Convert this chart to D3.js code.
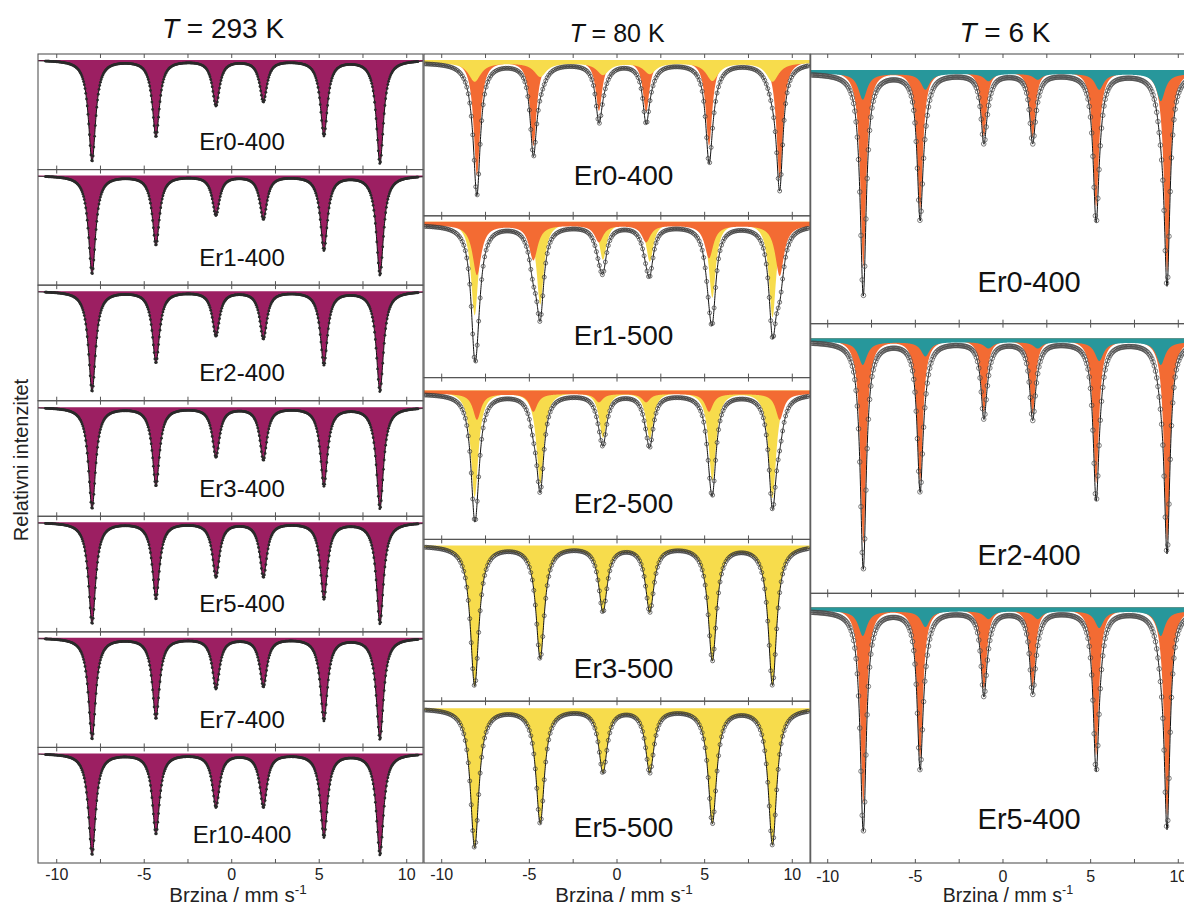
<!DOCTYPE html>
<html><head><meta charset="utf-8">
<script src="https://cdn.jsdelivr.net/npm/d3@7"></script>
<style>
body{margin:0;background:#fff}
svg{display:block;font-family:Arial,"Liberation Sans",sans-serif}
</style>
</head><body>
<svg id="c" width="1184" height="906"></svg>
<script>
// ================= DATA =================
const temperatures = ["293 K", "80 K", "6 K"];
const velocityTicks = [-10, -5, 0, 5, 10];
const minorTicks = [-10, -7.5, -5, -2.5, 0, 2.5, 5, 7.5, 10];
const axisTitle = "Brzina / mm s";
const yTitle = "Relativni intenzitet";

// sextet line positions (mm/s)
const linesHem293 = [-7.98, -4.33, -0.90, 1.81, 5.27, 8.47];
const linesOrange80 = [-7.99, -4.77, -1.03, 1.66, 5.25, 9.28];
const linesYellow80 = [-8.12, -4.38, -0.80, 1.87, 5.44, 8.87];
const linesOrange6 = [-7.97, -4.73, -1.09, 1.69, 5.31, 9.36];
const linesTeal6 = [-8.00, -4.43, -0.83, 1.98, 5.49, 9.00];

// T = 293 K : one sextet (absorption depth in %)
const samples293 = ["Er0-400", "Er1-400", "Er2-400", "Er3-400", "Er5-400", "Er7-400", "Er10-400"];
const depths293 = [
  [10.1, 7.6, 4.5, 4.1, 7.5, 10.3],
  [9.8, 6.9, 3.9, 4.3, 7.4, 9.9],
  [10.0, 7.1, 4.4, 4.7, 7.3, 10.0],
  [10.1, 7.8, 4.9, 5.2, 7.8, 10.1],
  [10.1, 7.6, 5.4, 5.4, 7.6, 10.1],
  [10.1, 8.0, 5.0, 4.8, 8.2, 10.1],
  [10.1, 8.0, 5.3, 5.3, 8.3, 10.1]
];
const width293 = [0.5, 0.5, 0.5, 0.5, 0.5, 0.5, 0.5];

// T = 80 K : orange + yellow sextets
const samples80 = ["Er0-400", "Er1-500", "Er2-500", "Er3-500", "Er5-500"];
const orangeDepths80 = [
  [11.5, 8.5, 5.0, 5.1, 8.5, 11.8],
  [5.0, 3.5, 1.7, 1.7, 3.3, 5.1],
  [2.6, 1.8, 0.85, 0.85, 1.8, 2.6],
  [0, 0, 0, 0, 0, 0],
  [0, 0, 0, 0, 0, 0]
];
const yellowDepths80 = [
  [1.9, 1.4, 1.2, 1.1, 1.8, 1.9],
  [9.3, 8.2, 3.7, 3.9, 7.5, 9.5],
  [10.6, 9.2, 4.6, 4.7, 8.9, 10.7],
  [14.0, 11.2, 6.5, 6.5, 11.4, 13.9],
  [13.9, 11.4, 6.3, 6.3, 11.4, 13.6]
];
const orangeWidth80 = [0.45, 0.6, 0.55, 0.5, 0.5];
const yellowWidth80 = [0.85, 0.5, 0.52, 0.58, 0.58];
const orangeBackground80 = [0, 0.3, 0.3, 0, 0];
const yellowBackground80 = [0.25, 0, 0, 0, 0];
const topComponent80 = ["yellow", "orange", "orange", "yellow", "yellow"];

// T = 6 K : orange + teal sextets
const samples6 = ["Er0-400", "Er2-400", "Er5-400"];
const orangeDepths6 = [
  [19.6, 13.8, 6.5, 6.6, 13.6, 20.1],
  [20.4, 14.2, 7.25, 7.4, 14.4, 20.2],
  [19.5, 15.0, 8.0, 7.8, 14.7, 20.8]
];
const tealDepths6 = [
  [2.6, 1.6, 0.75, 0.6, 1.6, 2.75],
  [2.3, 1.45, 0.65, 0.65, 1.9, 2.3],
  [2.5, 1.6, 0.8, 0.8, 1.7, 2.5]
];
const orangeWidth6 = [0.4, 0.4, 0.4];
const tealWidth6 = [0.6, 0.6, 0.6];
const tealBackground6 = [0.35, 0.35, 0.35];

// ================= STYLE / LAYOUT =================
const C = { magenta: "#9c1f62", orange: "#f36b33", yellow: "#f7dc4c", teal: "#27979b", frame: "#555" };
const TOP = 54, BOTTOM = 863, PXPCT = 10;
const cols = [
  { x0: 38, x1: 423, dom: [-11.07, 10.93], n: 7, chan: [-10.65, 10.65], step: 0.042,
    titleX: 223, titleY: 38, titleSize: 28, axX: 238, lblFrac: 0.53, lblSize: 24, lblY: [96, 96, 96, 96, 96, 96, 96],
    yTopPx: [6, 6, 6, 6.5, 6, 6, 6], pt: { r: 1.4, fill: "#2a2a2a", stroke: "none" } },
  { x0: 424, x1: 810, dom: [-11.01, 11.01], n: 5, chan: [-10.95, 10.95], step: 0.085,
    titleX: 617, titleY: 42, titleSize: 25, axX: 624, lblFrac: 0.517, lblSize: 28, lblY: [131, 129, 135, 139, 136],
    yTopPx: [6, 6, 13, 6, 7], pt: { r: 2.0, fill: "none", stroke: "#3a3a3a" } },
  { x0: 810.7, x1: 1196, dom: [-10.97, 11.01], n: 3, chan: [-10.9, 11.0], step: 0.07,
    titleX: 1005, titleY: 42, titleSize: 28, axX: 1008, lblFrac: 0.567, lblSize: 29, lblY: [238, 241, 236],
    yTopPx: [16, 14.6, 14], pt: { r: 2.3, fill: "none", stroke: "#4a4a4a" } }
];

// ================= HELPERS =================
function sextet(lines, depths, w, bg) {
  return v => {
    let s = bg || 0;
    for (let i = 0; i < lines.length; i++) {
      const t = 2 * (v - lines[i]) / w;
      s += depths[i] / (1 + t * t);
    }
    return s;
  };
}

const svg = d3.select("#c");
const defs = svg.append("defs");
let clipId = 0;

function drawPanel(col, k, comps, label) {
  const h = (BOTTOM - TOP) / col.n;
  const top = TOP + k * h;
  const x = d3.scaleLinear().domain(col.dom).range([col.x0, col.x1]);
  const yMax = 100 + col.yTopPx[k] / PXPCT;
  const y = d3.scaleLinear().domain([yMax - h / PXPCT, yMax]).range([top + h, top]);

  const id = "clip" + (clipId++);
  defs.append("clipPath").attr("id", id).append("rect")
    .attr("x", col.x0).attr("y", top).attr("width", col.x1 - col.x0).attr("height", h);
  const g = svg.append("g").attr("clip-path", `url(#${id})`);

  const fine = d3.range(col.dom[0], col.dom[1] + 0.001, 0.01);
  const total = v => comps.reduce((s, c) => s + c.f(v), 0);

  // component areas (first = bottom layer, last = on top)
  comps.forEach(c => {
    if (!c.visible) return;
    const area = d3.area().x(v => x(v)).y0(y(100)).y1(v => y(100 - c.f(v)));
    g.append("path").datum(fine).attr("d", area).attr("fill", c.color);
  });

  // fitted envelope
  const line = d3.line().x(v => x(v)).y(v => y(100 - total(v)));
  g.append("path").datum(fine).attr("d", line)
    .attr("fill", "none").attr("stroke", "#111").attr("stroke-width", 1);

  // measured channels
  const chan = d3.range(col.chan[0], col.chan[1] + 1e-6, col.step);
  g.append("g").selectAll("circle").data(chan).join("circle")
    .attr("cx", v => x(v)).attr("cy", v => y(100 - total(v)))
    .attr("r", col.pt.r).attr("fill", col.pt.fill)
    .attr("stroke", col.pt.stroke).attr("stroke-width", 0.7);

  // inward ticks top & bottom
  const tg = svg.append("g").attr("stroke", C.frame).attr("stroke-width", 1);
  minorTicks.forEach(t => {
    tg.append("line").attr("x1", x(t)).attr("x2", x(t)).attr("y1", top).attr("y2", top + 4);
    tg.append("line").attr("x1", x(t)).attr("x2", x(t)).attr("y1", top + h).attr("y2", top + h - 4);
  });

  // frame
  svg.append("rect").attr("x", col.x0).attr("y", top)
    .attr("width", col.x1 - col.x0).attr("height", h)
    .attr("fill", "none").attr("stroke", C.frame).attr("stroke-width", 1.1);

  // sample label
  svg.append("text").attr("x", col.x0 + col.lblFrac * (col.x1 - col.x0))
    .attr("y", top + col.lblY[k]).attr("text-anchor", "middle")
    .attr("font-size", col.lblSize).attr("fill", "#111").text(label);

  return x;
}

function drawColumn(ci, panels) {
  const col = cols[ci];
  let x;
  panels.forEach((p, k) => { x = drawPanel(col, k, p.comps, p.label); });

  // bottom axis labels
  const ag = svg.append("g");
  velocityTicks.forEach(t => {
    ag.append("text").attr("x", x(t)).attr("y", ci === 2 ? 882 : 880)
      .attr("text-anchor", "middle").attr("font-size", 16).attr("fill", "#222").text(String(t));
  });
  const at = svg.append("text").attr("x", col.axX).attr("y", 902)
    .attr("text-anchor", "middle").attr("font-size", ci === 2 ? 19.5 : 20.5).attr("fill", "#222");
  at.append("tspan").text(axisTitle);
  at.append("tspan").attr("dy", -8).attr("font-size", ci === 2 ? 12.5 : 13.5).text("-1");

  // title
  const tt = svg.append("text").attr("x", col.titleX).attr("y", col.titleY)
    .attr("text-anchor", "middle").attr("font-size", col.titleSize).attr("fill", "#111");
  tt.append("tspan").attr("font-style", "italic").text("T");
  tt.append("tspan").text(" = " + temperatures[ci]);
}

// ---- column 1: 293 K ----
drawColumn(0, samples293.map((s, i) => ({
  label: s,
  comps: [{ color: C.magenta, visible: true, f: sextet(linesHem293, depths293[i], width293[i], 0) }]
})));

// ---- column 2: 80 K ----
drawColumn(1, samples80.map((s, i) => {
  const orange = { color: C.orange, visible: d3.max(orangeDepths80[i]) > 0,
    f: sextet(linesOrange80, orangeDepths80[i], orangeWidth80[i], orangeBackground80[i]) };
  const yellow = { color: C.yellow, visible: d3.max(yellowDepths80[i]) > 0,
    f: sextet(linesYellow80, yellowDepths80[i], yellowWidth80[i], yellowBackground80[i]) };
  return { label: s, comps: topComponent80[i] === "yellow" ? [orange, yellow] : [yellow, orange] };
}));

// ---- column 3: 6 K ----
drawColumn(2, samples6.map((s, i) => ({
  label: s,
  comps: [
    { color: C.orange, visible: true, f: sextet(linesOrange6, orangeDepths6[i], orangeWidth6[i], 0) },
    { color: C.teal, visible: true, f: sextet(linesTeal6, tealDepths6[i], tealWidth6[i], tealBackground6[i]) }
  ]
})));

// y title
svg.append("text").attr("transform", "translate(28,460) rotate(-90)")
  .attr("text-anchor", "middle").attr("font-size", 20).attr("fill", "#222").text(yTitle);
</script>
</body></html>
